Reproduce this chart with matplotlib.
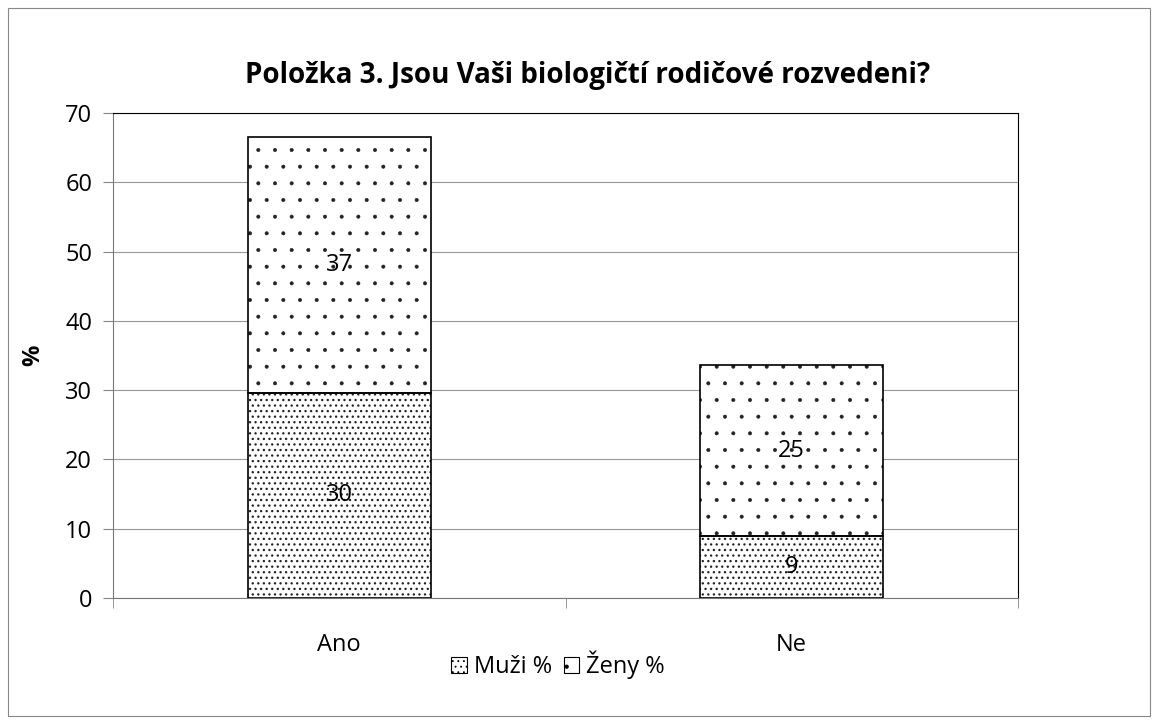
import matplotlib.pyplot as plt
from matplotlib.patches import Rectangle, Patch

plt.rcParams['font.family'] = ['Open Sans', 'DejaVu Sans']

# data
categories = ['Ano', 'Ne']
muzi = [29.6, 8.9]
zeny = [37.0, 24.7]
series_names = ['Muži %', 'Ženy %']
hatches = ['...', '.']

W, H = 1158, 724
fig = plt.figure(figsize=(W / 100, H / 100), dpi=100)
fig.patches.append(Rectangle((0.007, 0.011), 0.986, 0.978, transform=fig.transFigure,
                             fill=False, edgecolor='#888888', linewidth=0.8))
ax = fig.add_axes([113 / W, 1 - 598 / H, (1018 - 113) / W, (598 - 113) / H])

x = range(len(categories))
w = 0.405
# hatch layer first, then black outlines on top
plt.rcParams['hatch.linewidth'] = 0.9
ax.bar(x, muzi, width=w, color='white', edgecolor='#222222', hatch=hatches[0],
       linewidth=0, zorder=3)
plt.rcParams['hatch.linewidth'] = 0.4
ax.bar(x, zeny, width=w, bottom=muzi, color='white', edgecolor='#222222', hatch=hatches[1],
       linewidth=0, zorder=3)
b1 = ax.bar(x, muzi, width=w, fill=False, edgecolor='black', linewidth=1.2, zorder=4)
b2 = ax.bar(x, zeny, width=w, bottom=muzi, fill=False, edgecolor='black', linewidth=1.2, zorder=4)
for bars, vals in [(b1, muzi), (b2, zeny)]:
    for rect, v in zip(bars, vals):
        ax.text(rect.get_x() + rect.get_width() / 2, rect.get_y() + rect.get_height() / 2,
                f'{v:.0f}', ha='center', va='center', fontsize=17, zorder=5)

ax.set_xlim(-0.5, 1.5)
ax.set_ylim(0, 70)
ax.set_yticks(range(0, 71, 10))
ax.yaxis.grid(True, color='#999999', linewidth=0.8, zorder=0)
ax.set_xticks(list(x))
ax.set_xticklabels(categories, fontsize=17)
ax.set_xticks([-0.5, 0.5, 1.5], minor=True)
ax.tick_params(axis='x', which='major', length=0, pad=25)
ax.tick_params(axis='x', which='minor', length=7, color='#888888', direction='out')
ax.tick_params(axis='y', labelsize=17, length=7, color='#888888', pad=8)
for side in ['left', 'bottom']:
    ax.spines[side].set_color('#777777')
for side in ['top', 'right']:
    ax.spines[side].set_color('black')

fig.text(33 / W, 1 - 355 / H, '%', fontsize=17, fontweight='bold', rotation=90,
         ha='center', va='center')
fig.text(588 / W, 1 - 83 / H, 'Položka 3. Jsou Vaši biologičtí rodičové rozvedeni?',
         fontsize=20, fontweight='bold', ha='center', va='baseline')

plt.rcParams['hatch.linewidth'] = 0.6
handles = [Patch(facecolor='white', edgecolor='black', hatch=h, linewidth=0.8) for h in hatches]
fig.legend(handles, series_names, loc='center', bbox_to_anchor=(558 / W, 1 - 665 / H),
           ncol=2, frameon=False, fontsize=17, handlelength=0.65, handleheight=0.65,
           handletextpad=0.3, columnspacing=0.5, borderpad=0)

fig.savefig('out.png', dpi=100)
